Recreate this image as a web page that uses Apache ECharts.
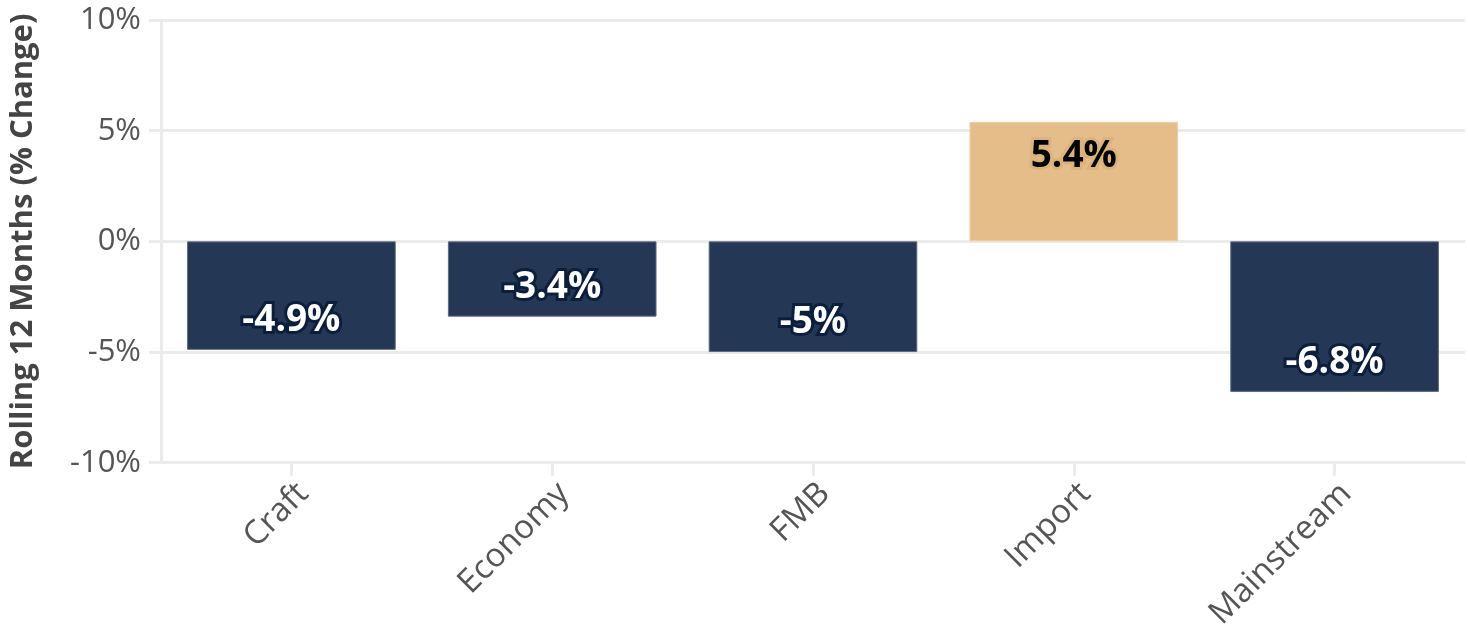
<!DOCTYPE html>
<html>
<head>
<meta charset="utf-8">
<script src="https://cdn.jsdelivr.net/npm/echarts@6/dist/echarts.min.js"></script>
<style>
  html, body { margin: 0; padding: 0; background: #fff; }
  #chart { width: 1468px; height: 633px; }
</style>
</head>
<body>
<div id="chart"></div>
<script>
const categories = ["Craft", "Economy", "FMB", "Import", "Mainstream"];
const changes = [-4.9, -3.4, -5, 5.4, -6.8];
const yTicks = { min: -10, max: 10, interval: 5 };

const navy = "#243754";
const tan = "#e4bd88";
const font = "Open Sans";

const chart = echarts.init(document.getElementById("chart"));

const barData = changes.map(function (v) {
  const up = v >= 0;
  return {
    value: v,
    itemStyle: {
      color: up ? tan : navy,
      borderColor: up ? "#ead0aa" : "#5d6b80",
      borderWidth: 1
    },
    label: {
      position: up ? "insideTop" : "insideBottom",
      distance: up ? 16 : 11,
      color: up ? "#000" : "#fff",
      textBorderColor: up ? "#dcb37c" : "#0b1f3c",
      textBorderWidth: 6
    }
  };
});

chart.setOption({
  animation: false,
  grid: { left: 160, right: 3, top: 20, bottom: 169 },
  xAxis: {
    type: "category",
    data: categories,
    axisLine: { show: false, onZero: false },
    axisTick: { show: true, alignWithLabel: true, length: 13, lineStyle: { color: "#ebebeb", width: 3 } },
    axisLabel: {
      rotate: 45,
      margin: 14,
      align: "right",
      verticalAlign: "top",
      color: "#555",
      fontFamily: font,
      fontSize: 33
    }
  },
  yAxis: {
    type: "value",
    min: yTicks.min,
    max: yTicks.max,
    interval: yTicks.interval,
    name: "Rolling 12 Months (% Change)",
    nameLocation: "middle",
    nameRotate: 90,
    nameGap: 122,
    nameTextStyle: { color: "#444", fontFamily: font, fontWeight: "bold", fontSize: 31 },
    axisLine: { show: true, lineStyle: { color: "#ebebeb", width: 3 } },
    axisTick: { show: true, length: 12, lineStyle: { color: "#ebebeb", width: 3 } },
    splitLine: { lineStyle: { color: "#ebebeb", width: 3 } },
    axisLabel: {
      formatter: "{value}%",
      margin: 20,
      color: "#555",
      fontFamily: font,
      fontSize: 31
    }
  },
  series: [{
    type: "bar",
    data: barData,
    barWidth: "80%",
    label: {
      show: true,
      formatter: function (p) { return p.value + "%"; },
      fontFamily: font,
      fontWeight: "bold",
      fontSize: 37
    }
  }]
});
</script>
</body>
</html>
